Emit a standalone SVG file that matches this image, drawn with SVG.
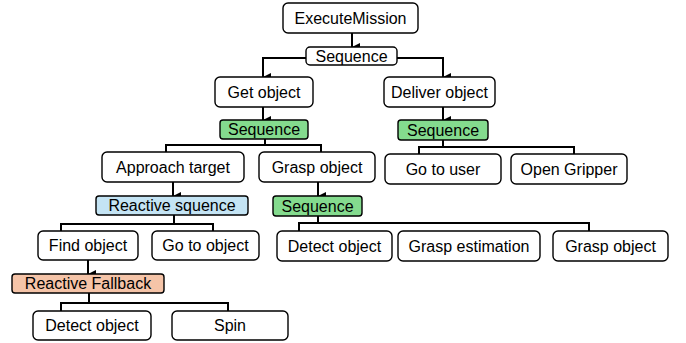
<svg xmlns="http://www.w3.org/2000/svg" width="686" height="343" viewBox="0 0 686 343">
<defs>
<marker id="arr" markerUnits="userSpaceOnUse" markerWidth="8" markerHeight="8" refX="3.5" refY="7" orient="auto-start-reverse" viewBox="0 0 7 7">
<path d="M0,0 L7,0 L3.5,7 Z" fill="#000"/>
</marker>
<style>
rect{stroke:#000;stroke-width:1.4;fill:#fff}
rect.g{fill:#84db8e}
rect.b{fill:#c4e4f4}
rect.o{fill:#f5c4a8}
text{font-family:"Liberation Sans",Arial,sans-serif;font-size:16px;text-anchor:middle;fill:#000}
.c path{fill:none;stroke:#000;stroke-width:2}
.c path.a{marker-end:url(#arr)}
</style>
</defs>
<g class="c" id="connectors">
<path class="a" d="M352,33 V47"/>
<path class="a" d="M306,58 H263 V77"/>
<path class="a" d="M397,58 H443 V77"/>
<path class="a" d="M263,107 V120"/>
<path class="a" d="M443,107 V120"/>
<path d="M265,139 V145 M166,152 V145 H321 V152"/>
<path d="M443,140 V147 M419,154 V147 H574 V154"/>
<path class="a" d="M173,182 V196"/>
<path class="a" d="M318,182 V196"/>
<path d="M174,215 V224 M61,231 V224 H213 V231"/>
<path d="M318,216 V223 M299,231 V223 H589 V231"/>
<path class="a" d="M88,260 V274"/>
<path d="M89,293 V303 M61,311 V303 H228 V311"/>
</g>
<g id="executeMission"><rect x="283" y="3" width="135" height="30" rx="5"/><text x="350.5" y="23.5">ExecuteMission</text></g>
<g id="seqTop"><rect x="306" y="47" width="91" height="18" rx="4"/><text x="351.5" y="61.5">Sequence</text></g>
<g id="getObject"><rect x="215" y="77" width="98" height="30" rx="5"/><text x="264" y="97.5">Get object</text></g>
<g id="deliverObject"><rect x="384" y="77" width="111" height="30" rx="5"/><text x="439.5" y="97.5">Deliver object</text></g>
<g id="seqGet"><rect class="g" x="220" y="120" width="88" height="19" rx="3"/><text x="264" y="135">Sequence</text></g>
<g id="seqDeliver"><rect class="g" x="398" y="120" width="90" height="20" rx="3"/><text x="443" y="135.5">Sequence</text></g>
<g id="approachTarget"><rect x="102" y="152" width="142" height="30" rx="5"/><text x="173" y="172.5">Approach target</text></g>
<g id="graspObjectTop"><rect x="259" y="152" width="116" height="30" rx="5"/><text x="317" y="172.5">Grasp object</text></g>
<g id="goToUser"><rect x="385" y="154" width="116" height="30" rx="5"/><text x="443" y="174.5">Go to user</text></g>
<g id="openGripper"><rect x="511" y="154" width="116" height="30" rx="5"/><text x="569" y="174.5">Open Gripper</text></g>
<g id="reactiveSequence"><rect class="b" x="96" y="196" width="152" height="19" rx="3"/><text x="172" y="211">Reactive squence</text></g>
<g id="seqGrasp"><rect class="g" x="273" y="196" width="89" height="20" rx="3"/><text x="317.5" y="211.5">Sequence</text></g>
<g id="findObject"><rect x="38" y="231" width="100" height="29" rx="5"/><text x="88" y="251">Find object</text></g>
<g id="goToObject"><rect x="152" y="231" width="107" height="29" rx="5"/><text x="205.5" y="251">Go to object</text></g>
<g id="detectObject1"><rect x="277" y="231" width="115" height="30" rx="5"/><text x="334.5" y="251.5">Detect object</text></g>
<g id="graspEstimation"><rect x="398" y="231" width="142" height="30" rx="5"/><text x="469" y="251.5">Grasp estimation</text></g>
<g id="graspObject"><rect x="553" y="231" width="115" height="30" rx="5"/><text x="610.5" y="251.5">Grasp object</text></g>
<g id="reactiveFallback"><rect class="o" x="12" y="274" width="152" height="19" rx="3"/><text x="88" y="289">Reactive Fallback</text></g>
<g id="detectObject2"><rect x="33" y="311" width="118" height="29" rx="5"/><text x="92" y="331">Detect object</text></g>
<g id="spin"><rect x="172" y="311" width="116" height="29" rx="5"/><text x="230" y="331">Spin</text></g>
</svg>
